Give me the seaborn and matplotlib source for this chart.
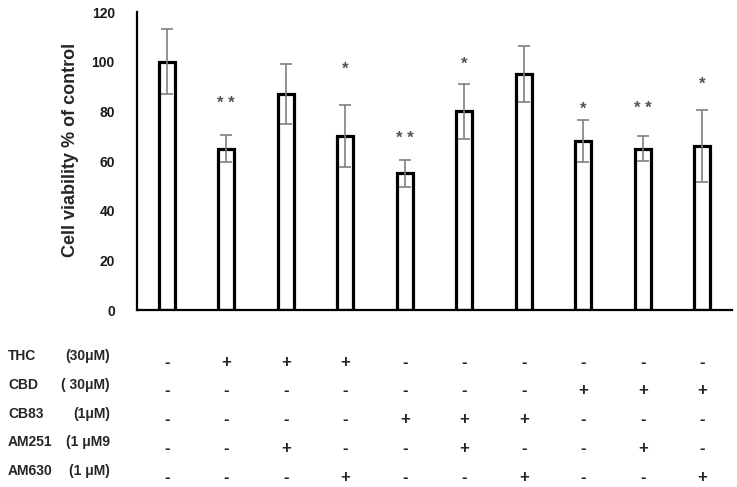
import matplotlib
matplotlib.use("Agg")
import matplotlib.pyplot as plt
import matplotlib.transforms as mtransforms
import pandas as pd
import seaborn as sns

# values
groups = [f"G{i+1}" for i in range(10)]
viability = [100, 65, 87, 70, 55, 80, 95, 68, 65, 66]
sd = [13, 5.5, 12, 12.5, 5.5, 11, 11.3, 8.5, 5, 14.5]
stars = ["", "* *", "", "*", "* *", "*", "", "*", "* *", "*"]
star_y = [0, 83, 0, 97, 69, 99, 0, 81, 81, 91]

drug_names = ["THC", "CBD", "CB83", "AM251", "AM630"]
drug_conc = ["(30μM)", "( 30μM)", "(1μM)", "(1 μM9", "(1 μM)"]
treatment = [
    "-+++------",
    "-------+++",
    "----+++---",
    "--+--+--+-",
    "---+--+--+",
]

sns.set_style("white")
plt.rcParams["font.family"] = ["Liberation Sans", "DejaVu Sans"]

fig = plt.figure(figsize=(7.37, 4.87), dpi=100)
ax = fig.add_axes([0.1859, 0.3634, 0.8073, 0.6119])

df = pd.DataFrame({"group": groups, "viability": viability})
sns.barplot(data=df, x="group", y="viability", ax=ax, width=0.27,
            color="white", edgecolor="black", linewidth=2.3, errorbar=None)
ax.errorbar(range(len(groups)), viability, yerr=sd, fmt="none",
            ecolor="#7f7f7f", elinewidth=1.2, capsize=4.5, capthick=1.2)

for i, (s, y) in enumerate(zip(stars, star_y)):
    if s:
        ax.text(i, y, s, ha="center", va="center", fontsize=12,
                fontweight="bold", color="#555555")

ax.set_xlim(-0.5, 9.5)
ax.set_ylim(0, 120)
ax.set_yticks(range(0, 121, 20))
ax.set_xticks([])
ax.set_xlabel("")
ax.tick_params(axis="y", length=0, pad=16, labelsize=10)
for lbl in ax.get_yticklabels():
    lbl.set_fontweight("bold")
    lbl.set_color("#1a1a1a")
ax.set_ylabel("Cell viability % of control", fontsize=13, fontweight="bold")
ax.yaxis.set_label_coords(-0.0975, 0.537)

sns.despine(ax=ax)
for side in ["left", "bottom"]:
    ax.spines[side].set_color("black")
    ax.spines[side].set_linewidth(1.6)

# treatment table below the axis
trans = mtransforms.blended_transform_factory(ax.transData, ax.transAxes)
for r, (name, conc, row) in enumerate(zip(drug_names, drug_conc, treatment)):
    y_sym = -0.1745 - r * 0.0965
    y_lab = y_sym + 0.02
    y_fig = 1 - (310 - y_lab * 298) / 487
    fig.text(8 / 737, y_fig, name, ha="left", va="center",
             fontsize=10, fontweight="bold")
    fig.text(110 / 737, y_fig, conc, ha="right", va="center",
             fontsize=10, fontweight="bold")
    for c, sym in enumerate(row):
        ax.text(c, y_sym, sym, transform=trans, ha="center", va="center",
                fontsize=12, fontweight="bold", clip_on=False)

fig.savefig("out.png", dpi=100)
